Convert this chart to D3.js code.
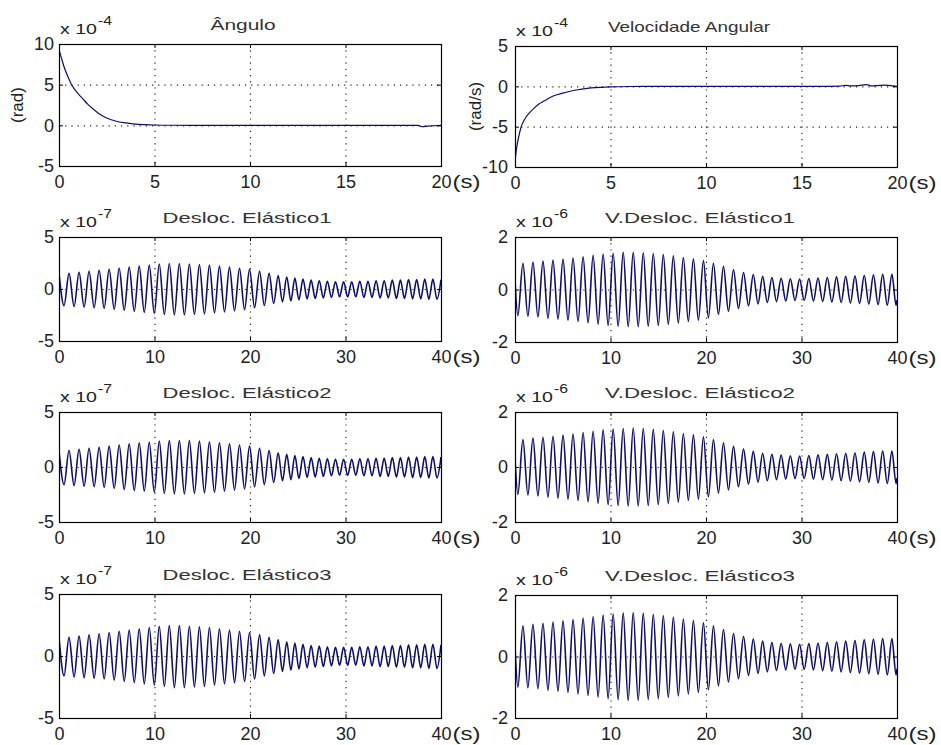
<!DOCTYPE html>
<html><head><meta charset="utf-8">
<script src="https://cdn.jsdelivr.net/npm/d3@7"></script>
<style>body{margin:0;background:#fff}svg{display:block}</style>
</head><body><svg id="c" width="941" height="745"></svg>
<script>
// ---------- DATA ----------
const xTicks20 = [0, 5, 10, 15, 20];
const xTicks40 = [0, 10, 20, 30, 40];
const yTicksAng = [-5, 0, 5, 10];
const yTicksVel = [-10, -5, 0, 5];
const yTicksDesloc = [-5, 0, 5];
const yTicksVDesloc = [-2, 0, 2];
const titles = ["Ângulo", "Velocidade Angular", "Desloc. Elástico1", "V.Desloc. Elástico1",
                "Desloc. Elástico2", "V.Desloc. Elástico2", "Desloc. Elástico3", "V.Desloc. Elástico3"];
const exponents = ["-4", "-4", "-7", "-6", "-7", "-6", "-7", "-6"];
const yLabels = ["(rad)", "(rad/s)", "", "", "", "", "", ""];
const xUnit = "(s)";

// Ângulo (x 10^-4 rad)
const angTimes = [0, 0.1, 0.25, 0.5, 0.66, 1, 1.27, 1.5, 2, 2.14, 2.5, 3, 3.5, 4, 4.5, 5, 6, 8, 10, 12, 14, 16, 18, 18.8, 19, 19.3, 20];
const angVals  = [9.3, 8.5, 7.3, 5.8, 5.0, 3.9, 3.2, 2.6, 1.6, 1.35, 0.9, 0.5, 0.3, 0.15, 0.08, 0.04, 0.01, 0, 0, 0, 0, 0, 0, 0, -0.15, -0.1, 0];

// Velocidade Angular (x 10^-4 rad/s)
const velTimes = [0, 0.05, 0.1, 0.2, 0.3, 0.5, 0.75, 1, 1.25, 1.5, 2, 2.5, 3, 3.5, 4, 4.5, 5, 6, 8, 10, 12, 14, 16, 17, 17.3, 17.6, 18, 18.4, 18.7, 19, 19.4, 19.8, 20];
const velVals  = [-9.3, -8.3, -7.4, -6.2, -5.2, -4.1, -3.3, -2.7, -2.2, -1.85, -1.2, -0.85, -0.55, -0.35, -0.2, -0.12, -0.07, -0.02, 0, 0, 0, 0, 0, 0.02, 0.12, 0.05, 0.1, 0.2, 0.05, 0.1, 0.15, 0.05, 0];

// Elastic displacements: successive extremes (x 10^-7)
const deslocTimes = [0, 0.53, 1.05, 1.58, 2.1, 2.63, 3.15, 3.68, 4.2, 4.73, 5.25, 5.78, 6.3, 6.83, 7.35, 7.88, 8.4, 8.93, 9.45, 9.98,
  10.5, 11.03, 11.55, 12.08, 12.6, 13.13, 13.65, 14.18, 14.7, 15.23, 15.75, 16.28, 16.8, 17.33, 17.85, 18.38, 18.9, 19.43, 19.95, 20.48,
  21.0, 21.5, 22.0, 22.48, 22.95, 23.4, 23.85, 24.28, 24.7, 25.12, 25.55, 25.98, 26.4, 26.83, 27.25, 27.68, 28.1, 28.53, 28.95, 29.38,
  29.8, 30.23, 30.65, 31.08, 31.5, 31.93, 32.35, 32.78, 33.2, 33.63, 34.05, 34.48, 34.9, 35.33, 35.75, 36.18, 36.6, 37.03, 37.45, 37.88,
  38.3, 38.73, 39.15, 39.58, 40.0];
const desloc1 = [1.5, -1.6, 1.5, -1.7, 1.6, -1.75, 1.7, -1.8, 1.8, -1.85, 1.9, -1.95, 2.0, -2.05, 2.1, -2.15, 2.2, -2.25, 2.3, -2.35,
  2.4, -2.45, 2.45, -2.5, 2.45, -2.5, 2.4, -2.45, 2.35, -2.4, 2.3, -2.3, 2.2, -2.2, 2.1, -2.1, 2.0, -2.0, 1.9, -1.8,
  1.7, -1.6, 1.5, -1.4, 1.3, -1.25, 1.15, -1.15, 1.05, -1.05, 0.95, -0.95, 0.85, -0.9, 0.8, -0.85, 0.75, -0.8, 0.7, -0.75,
  0.7, -0.75, 0.7, -0.75, 0.75, -0.8, 0.75, -0.8, 0.8, -0.85, 0.8, -0.85, 0.85, -0.9, 0.85, -0.9, 0.9, -0.95, 0.9, -0.95,
  0.95, -1.0, 0.95, -1.0, 0.9];
const desloc2 = [1.5, -1.6, 1.5, -1.7, 1.6, -1.75, 1.7, -1.8, 1.8, -1.85, 1.9, -1.95, 2.0, -2.05, 2.1, -2.15, 2.2, -2.2, 2.25, -2.3,
  2.35, -2.4, 2.4, -2.45, 2.4, -2.45, 2.4, -2.4, 2.35, -2.35, 2.3, -2.3, 2.2, -2.2, 2.1, -2.1, 2.0, -2.0, 1.9, -1.8,
  1.7, -1.6, 1.5, -1.4, 1.3, -1.25, 1.15, -1.15, 1.05, -1.05, 0.95, -0.95, 0.85, -0.9, 0.8, -0.85, 0.75, -0.8, 0.7, -0.75,
  0.7, -0.75, 0.7, -0.75, 0.75, -0.8, 0.75, -0.8, 0.8, -0.85, 0.8, -0.85, 0.85, -0.9, 0.85, -0.9, 0.9, -0.95, 0.9, -0.95,
  0.95, -1.0, 0.95, -1.0, 0.9];
const desloc3 = [1.5, -1.6, 1.5, -1.7, 1.6, -1.75, 1.7, -1.8, 1.8, -1.85, 1.9, -1.95, 2.0, -2.05, 2.1, -2.15, 2.2, -2.25, 2.3, -2.35,
  2.4, -2.45, 2.45, -2.55, 2.45, -2.55, 2.4, -2.5, 2.35, -2.45, 2.3, -2.35, 2.2, -2.25, 2.1, -2.15, 2.0, -2.05, 1.9, -1.85,
  1.7, -1.6, 1.5, -1.4, 1.3, -1.25, 1.15, -1.15, 1.05, -1.05, 0.95, -0.95, 0.85, -0.9, 0.8, -0.85, 0.75, -0.8, 0.7, -0.75,
  0.7, -0.75, 0.7, -0.75, 0.75, -0.8, 0.75, -0.8, 0.8, -0.85, 0.8, -0.85, 0.85, -0.9, 0.85, -0.9, 0.9, -0.95, 0.9, -0.95,
  0.95, -1.0, 0.95, -1.0, 0.9];

// Elastic displacement velocities: successive extremes (x 10^-6)
const vDeslocTimes = [0, 0.3, 0.83, 1.35, 1.88, 2.4, 2.93, 3.45, 3.98, 4.5, 5.03, 5.55, 6.08, 6.6, 7.13, 7.65, 8.18, 8.7, 9.23, 9.75,
  10.28, 10.8, 11.33, 11.85, 12.38, 12.9, 13.43, 13.95, 14.48, 15.0, 15.53, 16.05, 16.58, 17.1, 17.63, 18.15, 18.68, 19.2, 19.73, 20.25,
  20.78, 21.3, 21.83, 22.35, 22.88, 23.4, 23.93, 24.45, 24.95, 25.45, 25.93, 26.42, 26.9, 27.38, 27.87, 28.35, 28.83, 29.32, 29.8, 30.28,
  30.77, 31.25, 31.73, 32.22, 32.7, 33.18, 33.67, 34.15, 34.63, 35.12, 35.6, 36.08, 36.57, 37.05, 37.53, 38.02, 38.5, 38.98, 39.47, 39.9, 40.0];
const vDesloc1 = [0.35, -1.0, 1.0, -1.02, 1.05, -1.05, 1.08, -1.1, 1.12, -1.13, 1.16, -1.17, 1.2, -1.22, 1.25, -1.27, 1.3, -1.32, 1.35, -1.37,
  1.38, -1.4, 1.42, -1.42, 1.42, -1.42, 1.4, -1.4, 1.37, -1.37, 1.33, -1.33, 1.28, -1.28, 1.22, -1.22, 1.17, -1.17, 1.1, -1.08,
  1.0, -0.95, 0.88, -0.83, 0.75, -0.72, 0.65, -0.62, 0.57, -0.55, 0.5, -0.5, 0.46, -0.46, 0.43, -0.44, 0.41, -0.42, 0.4, -0.42,
  0.42, -0.44, 0.44, -0.46, 0.46, -0.48, 0.48, -0.5, 0.5, -0.52, 0.52, -0.54, 0.54, -0.56, 0.56, -0.58, 0.58, -0.6, 0.58, -0.6, -0.4];
const vDesloc2 = [0.35, -1.0, 1.0, -1.02, 1.05, -1.05, 1.08, -1.1, 1.12, -1.13, 1.16, -1.17, 1.2, -1.22, 1.25, -1.27, 1.3, -1.32, 1.35, -1.37,
  1.38, -1.4, 1.4, -1.42, 1.42, -1.42, 1.4, -1.4, 1.37, -1.37, 1.33, -1.33, 1.28, -1.28, 1.22, -1.22, 1.17, -1.17, 1.1, -1.08,
  1.0, -0.95, 0.88, -0.83, 0.75, -0.72, 0.65, -0.62, 0.57, -0.55, 0.5, -0.5, 0.46, -0.46, 0.43, -0.44, 0.41, -0.42, 0.4, -0.42,
  0.42, -0.44, 0.44, -0.46, 0.46, -0.48, 0.48, -0.5, 0.5, -0.52, 0.52, -0.54, 0.54, -0.56, 0.56, -0.58, 0.58, -0.6, 0.58, -0.6, -0.4];
const vDesloc3 = [0.35, -1.0, 1.0, -1.02, 1.05, -1.05, 1.08, -1.1, 1.12, -1.13, 1.16, -1.17, 1.2, -1.22, 1.25, -1.27, 1.3, -1.32, 1.35, -1.37,
  1.38, -1.4, 1.42, -1.43, 1.43, -1.43, 1.41, -1.4, 1.37, -1.37, 1.33, -1.33, 1.28, -1.28, 1.22, -1.22, 1.17, -1.17, 1.1, -1.08,
  1.0, -0.95, 0.88, -0.83, 0.75, -0.72, 0.65, -0.62, 0.57, -0.55, 0.5, -0.5, 0.46, -0.46, 0.43, -0.44, 0.41, -0.42, 0.4, -0.42,
  0.42, -0.44, 0.44, -0.46, 0.46, -0.48, 0.48, -0.5, 0.5, -0.52, 0.52, -0.54, 0.54, -0.56, 0.56, -0.58, 0.58, -0.6, 0.58, -0.6, -0.4];

// ---------- LAYOUT ----------
const FONT = "'Liberation Sans', Arial, Helvetica, sans-serif";
const LINE = "#0e0e6e";
const TXT = "#222";
const panels = [
  {t: angTimes, v: angVals, xt: xTicks20, yt: yTicksAng, box: [59, 441, 44, 166], tx: 243, tw: 65, col: 0},
  {t: velTimes, v: velVals, xt: xTicks20, yt: yTicksVel, box: [515, 897, 46, 167], tx: 689, tw: 162, col: 1},
  {t: deslocTimes, v: desloc1, xt: xTicks40, yt: yTicksDesloc, box: [59, 441, 237, 341], tx: 247, tw: 169, col: 0},
  {t: vDeslocTimes, v: vDesloc1, xt: xTicks40, yt: yTicksVDesloc, box: [515, 897, 237, 342], tx: 700, tw: 190, col: 1},
  {t: deslocTimes, v: desloc2, xt: xTicks40, yt: yTicksDesloc, box: [59, 441, 412, 522], tx: 247, tw: 169, col: 0},
  {t: vDeslocTimes, v: vDesloc2, xt: xTicks40, yt: yTicksVDesloc, box: [515, 897, 412, 522], tx: 700, tw: 190, col: 1},
  {t: deslocTimes, v: desloc3, xt: xTicks40, yt: yTicksDesloc, box: [59, 441, 594, 718], tx: 247, tw: 169, col: 0},
  {t: vDeslocTimes, v: vDesloc3, xt: xTicks40, yt: yTicksVDesloc, box: [515, 897, 595, 718], tx: 700, tw: 190, col: 1}
];

const svg = d3.select("#c");
svg.append("rect").attr("width", 941).attr("height", 745).attr("fill", "#fff");

panels.forEach((p, k) => {
  const [x0, x1, y0, y1] = p.box;
  const x = d3.scaleLinear().domain(d3.extent(p.xt)).range([x0, x1]);
  const y = d3.scaleLinear().domain(d3.extent(p.yt)).range([y1, y0]);
  const g = svg.append("g");

  // dotted grid
  g.selectAll(null).data(p.xt.slice(1, -1)).join("line")
    .attr("x1", d => x(d) + 0.5).attr("x2", d => x(d) + 0.5)
    .attr("y1", y0).attr("y2", y1)
    .attr("stroke", "#222").attr("stroke-width", 1.2).attr("stroke-dasharray", "1.2,5");
  g.selectAll(null).data(p.yt.slice(1, -1)).join("line")
    .attr("y1", d => y(d) + 0.5).attr("y2", d => y(d) + 0.5)
    .attr("x1", x0).attr("x2", x1)
    .attr("stroke", "#222").attr("stroke-width", 1.2).attr("stroke-dasharray", "1.2,5");

  // data line
  const clipId = "clip" + k;
  svg.append("clipPath").attr("id", clipId).append("rect")
    .attr("x", x0).attr("y", y0).attr("width", x1 - x0).attr("height", y1 - y0);
  const line = d3.line().x((d, i) => x(p.t[i])).y(d => y(d)).curve(d3.curveMonotoneX);
  g.append("path").attr("d", line(p.v)).attr("clip-path", `url(#${clipId})`)
    .attr("fill", "none").attr("stroke", LINE).attr("stroke-width", k < 2 ? 1.2 : 1.6);

  // axes
  const fmt = d => String(d);
  const ax = g.append("g").attr("transform", `translate(0,${y1})`)
    .call(d3.axisBottom(x).tickValues(p.xt).tickSize(-4).tickPadding(9).tickFormat(fmt));
  const ay = g.append("g").attr("transform", `translate(${x0},0)`)
    .call(d3.axisLeft(y).tickValues(p.yt).tickSize(-4).tickPadding(p.col ? 7 : 5).tickFormat(fmt));
  const at = g.append("g").attr("transform", `translate(0,${y0})`)
    .call(d3.axisTop(x).tickValues(p.xt).tickSize(-4).tickFormat(""));
  const ar = g.append("g").attr("transform", `translate(${x1},0)`)
    .call(d3.axisRight(y).tickValues(p.yt).tickSize(-4).tickFormat(""));
  [ax, ay, at, ar].forEach(a => {
    a.select(".domain").remove();
    a.selectAll("line").attr("stroke", "#000");
    a.selectAll("text").attr("font-family", FONT).attr("font-size", 18).attr("fill", TXT);
  });

  // "(s)" after last x tick label
  const lastTick = ax.selectAll(".tick").filter((d, i, n) => i === n.length - 1);
  const lt = lastTick.select("text").node();
  const bb = lt.getBBox();
  lastTick.append("text").attr("x", bb.x + bb.width + 1).attr("y", lt.getAttribute("y"))
    .attr("dy", "0.71em").attr("text-anchor", "start")
    .attr("font-family", FONT).attr("font-size", 18).attr("fill", TXT)
    .attr("textLength", 28).attr("lengthAdjust", "spacingAndGlyphs").text(xUnit);

  // box
  g.append("rect").attr("x", x0 + 0.5).attr("y", y0 + 0.5)
    .attr("width", x1 - x0).attr("height", y1 - y0)
    .attr("fill", "none").attr("stroke", "#000").attr("stroke-width", 1.2);

  // title
  g.append("text").attr("x", p.tx).attr("y", y0 - 14).attr("text-anchor", "middle")
    .attr("font-family", FONT).attr("font-size", 15).attr("fill", "#333")
    .attr("textLength", p.tw).attr("lengthAdjust", "spacingAndGlyphs").text(titles[k]);

  // exponent multiplier
  const mx = x0 + 1;
  g.append("text").attr("x", mx).attr("y", y0 - 10)
    .attr("font-family", FONT).attr("font-size", 15).attr("fill", TXT)
    .attr("textLength", 37).attr("lengthAdjust", "spacingAndGlyphs").text("x 10");
  g.append("text").attr("x", mx + 38).attr("y", y0 - 19)
    .attr("font-family", FONT).attr("font-size", 12).attr("fill", TXT)
    .attr("textLength", 14).attr("lengthAdjust", "spacingAndGlyphs").text(exponents[k]);

  // y label
  if (yLabels[k]) {
    const lx = p.col ? 475 : 17;
    const ly = (y0 + y1) / 2;
    g.append("text").attr("transform", `translate(${lx},${ly}) rotate(-90)`)
      .attr("text-anchor", "middle").attr("dy", "0.35em")
      .attr("font-family", FONT).attr("font-size", 17).attr("fill", TXT).text(yLabels[k]);
  }
});
</script>
</body></html>
